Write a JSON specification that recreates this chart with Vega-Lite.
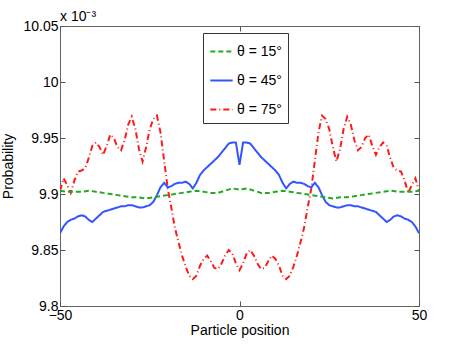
{
  "$schema": "https://vega.github.io/schema/vega-lite/v6.json",
  "width": 359,
  "height": 280,
  "autosize": {"type": "none"},
  "padding": {"left": 60, "top": 26, "right": 44, "bottom": 39},
  "background": "white",
  "title": {"text": "x 10⁻³", "anchor": "start", "frame": "group", "fontSize": 14, "fontWeight": "normal", "font": "Liberation Sans", "offset": -5, "color": "black"},
  "config": {
    "view": {"stroke": "#666666", "strokeWidth": 1},
    "font": "Liberation Sans",
    "axis": {"domain": false, "tickColor": "#555555", "grid": false, "labelFontSize": 14, "titleFontSize": 14, "labelColor": "black", "titleColor": "black", "titleFontWeight": "normal", "labelFont": "Liberation Sans", "titleFont": "Liberation Sans", "tickSize": 5, "offset": -5}
  },
  "data": {"values": [
    {"x":-50,"p":9.903,"s":"θ = 75°"},{"x":-49,"p":9.914,"s":"θ = 75°"},{"x":-48,"p":9.908,"s":"θ = 75°"},{"x":-47,"p":9.901,"s":"θ = 75°"},{"x":-46,"p":9.912,"s":"θ = 75°"},{"x":-45,"p":9.920,"s":"θ = 75°"},{"x":-44,"p":9.921,"s":"θ = 75°"},{"x":-43,"p":9.923,"s":"θ = 75°"},{"x":-42,"p":9.932,"s":"θ = 75°"},{"x":-41,"p":9.943,"s":"θ = 75°"},{"x":-40,"p":9.946,"s":"θ = 75°"},{"x":-39,"p":9.942,"s":"θ = 75°"},{"x":-38,"p":9.935,"s":"θ = 75°"},{"x":-37,"p":9.943,"s":"θ = 75°"},{"x":-36,"p":9.953,"s":"θ = 75°"},{"x":-35,"p":9.950,"s":"θ = 75°"},{"x":-34,"p":9.942,"s":"θ = 75°"},{"x":-33,"p":9.939,"s":"θ = 75°"},{"x":-32,"p":9.948,"s":"θ = 75°"},{"x":-31,"p":9.962,"s":"θ = 75°"},{"x":-30,"p":9.969,"s":"θ = 75°"},{"x":-29,"p":9.958,"s":"θ = 75°"},{"x":-28,"p":9.940,"s":"θ = 75°"},{"x":-27,"p":9.929,"s":"θ = 75°"},{"x":-26,"p":9.942,"s":"θ = 75°"},{"x":-25,"p":9.958,"s":"θ = 75°"},{"x":-24,"p":9.967,"s":"θ = 75°"},{"x":-23,"p":9.970,"s":"θ = 75°"},{"x":-22,"p":9.955,"s":"θ = 75°"},{"x":-21,"p":9.930,"s":"θ = 75°"},{"x":-20,"p":9.905,"s":"θ = 75°"},{"x":-19,"p":9.888,"s":"θ = 75°"},{"x":-18,"p":9.870,"s":"θ = 75°"},{"x":-17,"p":9.857,"s":"θ = 75°"},{"x":-16,"p":9.845,"s":"θ = 75°"},{"x":-15,"p":9.835,"s":"θ = 75°"},{"x":-14,"p":9.827,"s":"θ = 75°"},{"x":-13,"p":9.824,"s":"θ = 75°"},{"x":-12,"p":9.827,"s":"θ = 75°"},{"x":-11,"p":9.836,"s":"θ = 75°"},{"x":-10,"p":9.842,"s":"θ = 75°"},{"x":-9,"p":9.845,"s":"θ = 75°"},{"x":-8,"p":9.840,"s":"θ = 75°"},{"x":-7,"p":9.834,"s":"θ = 75°"},{"x":-6,"p":9.833,"s":"θ = 75°"},{"x":-5,"p":9.838,"s":"θ = 75°"},{"x":-4,"p":9.845,"s":"θ = 75°"},{"x":-3,"p":9.850,"s":"θ = 75°"},{"x":-2,"p":9.847,"s":"θ = 75°"},{"x":-1,"p":9.838,"s":"θ = 75°"},{"x":0,"p":9.832,"s":"θ = 75°"},
    {"x":1,"p":9.838,"s":"θ = 75°"},{"x":2,"p":9.847,"s":"θ = 75°"},{"x":3,"p":9.850,"s":"θ = 75°"},{"x":4,"p":9.845,"s":"θ = 75°"},{"x":5,"p":9.838,"s":"θ = 75°"},{"x":6,"p":9.833,"s":"θ = 75°"},{"x":7,"p":9.834,"s":"θ = 75°"},{"x":8,"p":9.840,"s":"θ = 75°"},{"x":9,"p":9.845,"s":"θ = 75°"},{"x":10,"p":9.842,"s":"θ = 75°"},{"x":11,"p":9.836,"s":"θ = 75°"},{"x":12,"p":9.827,"s":"θ = 75°"},{"x":13,"p":9.824,"s":"θ = 75°"},{"x":14,"p":9.827,"s":"θ = 75°"},{"x":15,"p":9.835,"s":"θ = 75°"},{"x":16,"p":9.845,"s":"θ = 75°"},{"x":17,"p":9.857,"s":"θ = 75°"},{"x":18,"p":9.870,"s":"θ = 75°"},{"x":19,"p":9.888,"s":"θ = 75°"},{"x":20,"p":9.905,"s":"θ = 75°"},{"x":21,"p":9.930,"s":"θ = 75°"},{"x":22,"p":9.955,"s":"θ = 75°"},{"x":23,"p":9.970,"s":"θ = 75°"},{"x":24,"p":9.967,"s":"θ = 75°"},{"x":25,"p":9.958,"s":"θ = 75°"},{"x":26,"p":9.942,"s":"θ = 75°"},{"x":27,"p":9.929,"s":"θ = 75°"},{"x":28,"p":9.940,"s":"θ = 75°"},{"x":29,"p":9.958,"s":"θ = 75°"},{"x":30,"p":9.969,"s":"θ = 75°"},{"x":31,"p":9.962,"s":"θ = 75°"},{"x":32,"p":9.948,"s":"θ = 75°"},{"x":33,"p":9.939,"s":"θ = 75°"},{"x":34,"p":9.942,"s":"θ = 75°"},{"x":35,"p":9.950,"s":"θ = 75°"},{"x":36,"p":9.953,"s":"θ = 75°"},{"x":37,"p":9.943,"s":"θ = 75°"},{"x":38,"p":9.935,"s":"θ = 75°"},{"x":39,"p":9.942,"s":"θ = 75°"},{"x":40,"p":9.946,"s":"θ = 75°"},{"x":41,"p":9.943,"s":"θ = 75°"},{"x":42,"p":9.932,"s":"θ = 75°"},{"x":43,"p":9.923,"s":"θ = 75°"},{"x":44,"p":9.921,"s":"θ = 75°"},{"x":45,"p":9.920,"s":"θ = 75°"},{"x":46,"p":9.912,"s":"θ = 75°"},{"x":47,"p":9.901,"s":"θ = 75°"},{"x":48,"p":9.908,"s":"θ = 75°"},{"x":49,"p":9.914,"s":"θ = 75°"},{"x":50,"p":9.903,"s":"θ = 75°"},
    {"x":-50,"p":9.865,"s":"θ = 45°"},{"x":-49,"p":9.871,"s":"θ = 45°"},{"x":-48,"p":9.875,"s":"θ = 45°"},{"x":-47,"p":9.877,"s":"θ = 45°"},{"x":-46,"p":9.878,"s":"θ = 45°"},{"x":-45,"p":9.880,"s":"θ = 45°"},{"x":-44,"p":9.881,"s":"θ = 45°"},{"x":-43,"p":9.880,"s":"θ = 45°"},{"x":-42,"p":9.877,"s":"θ = 45°"},{"x":-41,"p":9.875,"s":"θ = 45°"},{"x":-40,"p":9.878,"s":"θ = 45°"},{"x":-39,"p":9.881,"s":"θ = 45°"},{"x":-38,"p":9.884,"s":"θ = 45°"},{"x":-37,"p":9.885,"s":"θ = 45°"},{"x":-36,"p":9.886,"s":"θ = 45°"},{"x":-35,"p":9.887,"s":"θ = 45°"},{"x":-34,"p":9.888,"s":"θ = 45°"},{"x":-33,"p":9.889,"s":"θ = 45°"},{"x":-32,"p":9.889,"s":"θ = 45°"},{"x":-31,"p":9.890,"s":"θ = 45°"},{"x":-30,"p":9.890,"s":"θ = 45°"},{"x":-29,"p":9.889,"s":"θ = 45°"},{"x":-28,"p":9.888,"s":"θ = 45°"},{"x":-27,"p":9.888,"s":"θ = 45°"},{"x":-26,"p":9.889,"s":"θ = 45°"},{"x":-25,"p":9.890,"s":"θ = 45°"},{"x":-24,"p":9.893,"s":"θ = 45°"},{"x":-23,"p":9.899,"s":"θ = 45°"},{"x":-22,"p":9.906,"s":"θ = 45°"},{"x":-21,"p":9.910,"s":"θ = 45°"},{"x":-20,"p":9.906,"s":"θ = 45°"},{"x":-19,"p":9.907,"s":"θ = 45°"},{"x":-18,"p":9.909,"s":"θ = 45°"},{"x":-17,"p":9.910,"s":"θ = 45°"},{"x":-16,"p":9.910,"s":"θ = 45°"},{"x":-15,"p":9.911,"s":"θ = 45°"},{"x":-14,"p":9.909,"s":"θ = 45°"},{"x":-13,"p":9.905,"s":"θ = 45°"},{"x":-12,"p":9.910,"s":"θ = 45°"},{"x":-11,"p":9.917,"s":"θ = 45°"},{"x":-10,"p":9.921,"s":"θ = 45°"},{"x":-9,"p":9.924,"s":"θ = 45°"},{"x":-8,"p":9.927,"s":"θ = 45°"},{"x":-7,"p":9.930,"s":"θ = 45°"},{"x":-6,"p":9.933,"s":"θ = 45°"},{"x":-5,"p":9.937,"s":"θ = 45°"},{"x":-4,"p":9.941,"s":"θ = 45°"},{"x":-3,"p":9.945,"s":"θ = 45°"},{"x":-2,"p":9.946,"s":"θ = 45°"},{"x":-1,"p":9.946,"s":"θ = 45°"},{"x":0,"p":9.926,"s":"θ = 45°"},
    {"x":1,"p":9.946,"s":"θ = 45°"},{"x":2,"p":9.946,"s":"θ = 45°"},{"x":3,"p":9.945,"s":"θ = 45°"},{"x":4,"p":9.941,"s":"θ = 45°"},{"x":5,"p":9.937,"s":"θ = 45°"},{"x":6,"p":9.933,"s":"θ = 45°"},{"x":7,"p":9.930,"s":"θ = 45°"},{"x":8,"p":9.927,"s":"θ = 45°"},{"x":9,"p":9.924,"s":"θ = 45°"},{"x":10,"p":9.921,"s":"θ = 45°"},{"x":11,"p":9.917,"s":"θ = 45°"},{"x":12,"p":9.910,"s":"θ = 45°"},{"x":13,"p":9.905,"s":"θ = 45°"},{"x":14,"p":9.909,"s":"θ = 45°"},{"x":15,"p":9.911,"s":"θ = 45°"},{"x":16,"p":9.910,"s":"θ = 45°"},{"x":17,"p":9.910,"s":"θ = 45°"},{"x":18,"p":9.909,"s":"θ = 45°"},{"x":19,"p":9.907,"s":"θ = 45°"},{"x":20,"p":9.906,"s":"θ = 45°"},{"x":21,"p":9.910,"s":"θ = 45°"},{"x":22,"p":9.906,"s":"θ = 45°"},{"x":23,"p":9.899,"s":"θ = 45°"},{"x":24,"p":9.893,"s":"θ = 45°"},{"x":25,"p":9.890,"s":"θ = 45°"},{"x":26,"p":9.889,"s":"θ = 45°"},{"x":27,"p":9.888,"s":"θ = 45°"},{"x":28,"p":9.888,"s":"θ = 45°"},{"x":29,"p":9.889,"s":"θ = 45°"},{"x":30,"p":9.890,"s":"θ = 45°"},{"x":31,"p":9.890,"s":"θ = 45°"},{"x":32,"p":9.889,"s":"θ = 45°"},{"x":33,"p":9.889,"s":"θ = 45°"},{"x":34,"p":9.888,"s":"θ = 45°"},{"x":35,"p":9.887,"s":"θ = 45°"},{"x":36,"p":9.886,"s":"θ = 45°"},{"x":37,"p":9.885,"s":"θ = 45°"},{"x":38,"p":9.884,"s":"θ = 45°"},{"x":39,"p":9.881,"s":"θ = 45°"},{"x":40,"p":9.878,"s":"θ = 45°"},{"x":41,"p":9.875,"s":"θ = 45°"},{"x":42,"p":9.877,"s":"θ = 45°"},{"x":43,"p":9.880,"s":"θ = 45°"},{"x":44,"p":9.881,"s":"θ = 45°"},{"x":45,"p":9.880,"s":"θ = 45°"},{"x":46,"p":9.878,"s":"θ = 45°"},{"x":47,"p":9.877,"s":"θ = 45°"},{"x":48,"p":9.875,"s":"θ = 45°"},{"x":49,"p":9.871,"s":"θ = 45°"},{"x":50,"p":9.865,"s":"θ = 45°"},
    {"x":-50,"p":9.903,"s":"θ = 15°"},{"x":-48,"p":9.902,"s":"θ = 15°"},{"x":-46,"p":9.902,"s":"θ = 15°"},{"x":-44,"p":9.902,"s":"θ = 15°"},{"x":-42,"p":9.903,"s":"θ = 15°"},{"x":-40,"p":9.902,"s":"θ = 15°"},{"x":-38,"p":9.901,"s":"θ = 15°"},{"x":-36,"p":9.900,"s":"θ = 15°"},{"x":-34,"p":9.899,"s":"θ = 15°"},{"x":-32,"p":9.898,"s":"θ = 15°"},{"x":-30,"p":9.897,"s":"θ = 15°"},{"x":-28,"p":9.897,"s":"θ = 15°"},{"x":-26,"p":9.896,"s":"θ = 15°"},{"x":-24,"p":9.897,"s":"θ = 15°"},{"x":-22,"p":9.898,"s":"θ = 15°"},{"x":-20,"p":9.899,"s":"θ = 15°"},{"x":-18,"p":9.900,"s":"θ = 15°"},{"x":-16,"p":9.901,"s":"θ = 15°"},{"x":-14,"p":9.902,"s":"θ = 15°"},{"x":-12,"p":9.903,"s":"θ = 15°"},{"x":-10,"p":9.902,"s":"θ = 15°"},{"x":-8,"p":9.901,"s":"θ = 15°"},{"x":-6,"p":9.901,"s":"θ = 15°"},{"x":-4,"p":9.903,"s":"θ = 15°"},{"x":-2,"p":9.905,"s":"θ = 15°"},{"x":0,"p":9.904,"s":"θ = 15°"},
    {"x":2,"p":9.905,"s":"θ = 15°"},{"x":4,"p":9.903,"s":"θ = 15°"},{"x":6,"p":9.901,"s":"θ = 15°"},{"x":8,"p":9.901,"s":"θ = 15°"},{"x":10,"p":9.902,"s":"θ = 15°"},{"x":12,"p":9.903,"s":"θ = 15°"},{"x":14,"p":9.902,"s":"θ = 15°"},{"x":16,"p":9.901,"s":"θ = 15°"},{"x":18,"p":9.900,"s":"θ = 15°"},{"x":20,"p":9.899,"s":"θ = 15°"},{"x":22,"p":9.898,"s":"θ = 15°"},{"x":24,"p":9.897,"s":"θ = 15°"},{"x":26,"p":9.896,"s":"θ = 15°"},{"x":28,"p":9.897,"s":"θ = 15°"},{"x":30,"p":9.897,"s":"θ = 15°"},{"x":32,"p":9.898,"s":"θ = 15°"},{"x":34,"p":9.899,"s":"θ = 15°"},{"x":36,"p":9.900,"s":"θ = 15°"},{"x":38,"p":9.901,"s":"θ = 15°"},{"x":40,"p":9.902,"s":"θ = 15°"},{"x":42,"p":9.903,"s":"θ = 15°"},{"x":44,"p":9.902,"s":"θ = 15°"},{"x":46,"p":9.902,"s":"θ = 15°"},{"x":48,"p":9.902,"s":"θ = 15°"},{"x":50,"p":9.903,"s":"θ = 15°"}
  ]},
  "layer": [
    {
      "mark": {"type": "line", "strokeWidth": 2, "clip": true},
      "encoding": {
        "x": {"field": "x", "type": "quantitative", "scale": {"domain": [-50, 50], "nice": false, "zero": false},
              "axis": {"values": [-50, 0, 50], "title": "Particle position", "labelPadding": 2, "titlePadding": 1, "labelFlush": false}},
        "y": {"field": "p", "type": "quantitative", "scale": {"domain": [9.8, 10.05], "nice": false, "zero": false},
              "axis": {"values": [9.8, 9.85, 9.9, 9.95, 10, 10.05], "format": "~f", "title": "Probability", "labelPadding": 2, "titlePadding": 7, "labelFlush": false}},
        "color": {"field": "s", "type": "nominal",
                  "scale": {"domain": ["θ = 15°", "θ = 45°", "θ = 75°"], "range": ["#22aa22", "#3355ff", "#ff1a1a"]},
                  "legend": {"title": null, "orient": "none", "legendX": 143, "legendY": 7, "strokeColor": "#333333", "fillColor": "white", "padding": 6, "symbolType": "stroke", "symbolSize": 500, "symbolStrokeWidth": 2, "labelFontSize": 14, "labelColor": "black", "rowPadding": 9, "symbolOffset": 0, "labelOffset": 3}},
        "strokeDash": {"field": "s", "type": "nominal",
                  "scale": {"domain": ["θ = 15°", "θ = 45°", "θ = 75°"], "range": [[5, 3], [1, 0], [6, 3, 1, 3]]},
                  "legend": null},
        "order": {"field": "x", "type": "quantitative"}
      }
    },
    {
      "mark": {"type": "line", "opacity": 0},
      "encoding": {
        "x": {"field": "x", "type": "quantitative", "axis": {"orient": "top", "values": [-50, 0, 50], "labels": false, "title": null}},
        "y": {"field": "p", "type": "quantitative", "axis": {"orient": "right", "values": [9.8, 9.85, 9.9, 9.95, 10, 10.05], "labels": false, "title": null}},
        "detail": {"field": "s", "type": "nominal"}
      }
    }
  ],
  "resolve": {"axis": {"x": "independent", "y": "independent"}}
}
